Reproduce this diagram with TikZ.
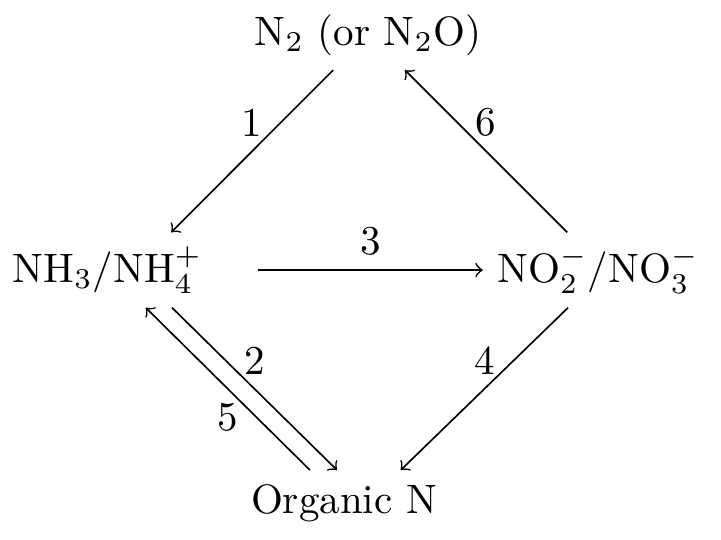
\documentclass[tikz,border=0pt]{standalone}
\usetikzlibrary{positioning}
\begin{document}
\begin{tikzpicture}[
  arr/.style={draw,->},
  lbl/.style={midway}
]
\useasboundingbox (0,0) rectangle (6.174,-4.616);
\node (n2)  at (3.151,-0.300) {N$_2$ (or N$_2$O)};
\node (nh)  at (0.921,-2.312) {NH$_3$/NH$_4^+$};
\node (no)  at (5.121,-2.312) {NO$_2^-$/NO$_3^-$};
\node (org) at (2.946,-4.310) {Organic N};
\draw[arr] ([xshift=-8.5pt]n2.south) -- node[lbl, above] {1} ([xshift=15.5pt]nh.north);
\draw[arr] ([xshift=-7.5pt]no.north) -- node[lbl, above] {6} ([xshift=9pt]n2.south);
\draw[arr] ([xshift=10pt]nh.east) -- node[lbl, above] {3} (no.west);
\draw[arr] ([xshift=-7.3pt]no.south) -- node[lbl, above] {4} ([xshift=13.8pt]org.north);
\draw[arr] ([xshift=15.7pt]nh.south) -- node[lbl, above] {2} ([xshift=-1.7pt]org.north);
\draw[arr] ([xshift=-8.3pt]org.north) -- node[lbl, below] {5} ([xshift=9.3pt]nh.south);
\end{tikzpicture}
\end{document}
